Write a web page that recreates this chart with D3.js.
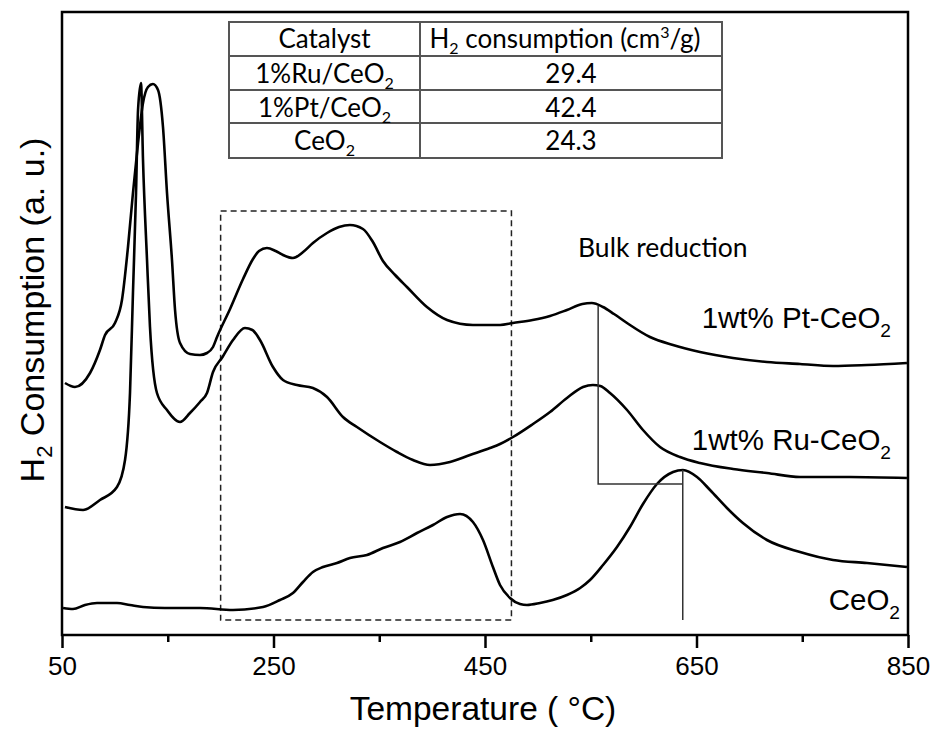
<!DOCTYPE html>
<html><head><meta charset="utf-8">
<script src="https://cdn.jsdelivr.net/npm/d3@7"></script>
<style>html,body{margin:0;padding:0;background:#fff;}svg{display:block;}</style>
</head><body>
<svg id="c" width="934" height="729"></svg>
<script>
// ---------- data (temperature in °C, signal in a.u.) ----------
const ptTemp = [52.8,62.3,76.5,85.9,90.7,100.1,106.7,112.4,117.1,121.9,126.6,131.3,136.0,140.8,145.5,149.3,154.0,156.9,161.6,171.0,180.5,187.1,192.8,196.6,208.9,221.2,230.6,236.3,243.8,252.0,259.0,268.4,278.0,287.3,300.6,312.0,322.3,334.6,344.0,353.5,365.0,376.2,395.1,414.1,438.6,464.2,476.5,495.0,511.5,527.5,542.0,551.0,561.6,572.0,584.3,606.0,627.8,653.3,684.5,716.6,747.9,779.1,811.2,849.0];
const ptSignal = [25.2,24.8,26.2,28.5,30.0,31.2,33.5,38.8,44.2,49.2,53.2,54.8,55.1,54.5,50.8,44.2,37.5,32.5,29.2,28.1,28.0,28.2,28.8,29.8,32.6,35.6,37.6,38.4,38.7,38.4,38.0,37.7,38.3,39.2,40.2,40.8,41.0,40.6,39.3,37.4,36.0,34.8,32.8,31.5,31.0,31.0,31.2,31.5,31.9,32.5,33.1,33.2,32.8,32.1,31.2,29.8,29.0,28.3,27.7,27.3,27.1,26.9,27.0,27.2];

const ruTemp = [52.8,69.9,85.9,102.0,109.6,114.3,117.1,120.0,121.9,124.7,126.6,130.4,133.2,139.8,149.3,161.6,171.0,180.5,187.1,192.8,201.8,211.7,223.0,230.0,237.2,249.5,259.0,272.2,287.3,300.6,315.7,328.9,350.7,366.8,381.9,398.0,416.9,435.8,454.7,464.2,476.5,495.4,511.5,527.5,542.7,552.0,559.0,568.2,584.3,599.4,615.5,634.4,653.3,684.5,716.6,747.9,795.1,849.0];
const ruSignal = [12.8,12.5,13.5,14.8,17.5,24.2,34.2,44.2,52.5,55.2,47.5,37.5,30.8,24.2,22.5,21.3,22.2,23.3,24.2,26.3,27.8,29.5,30.7,30.5,29.5,26.8,25.5,25.0,24.7,23.8,21.8,20.8,19.3,18.3,17.5,17.0,17.3,18.0,18.7,19.1,19.8,21.1,22.3,23.7,24.8,25.0,24.9,24.2,22.5,20.5,18.8,17.8,17.2,16.6,16.2,15.8,15.8,15.7];

const ceTemp = [51.0,60.4,71.7,83.1,102.0,114.3,126.6,147.4,180.5,211.7,240.1,256.1,268.4,277.9,287.3,296.8,310.0,322.3,338.4,353.5,369.6,385.7,400.8,414.1,426.4,438.6,448.1,457.5,464.2,473.6,483.1,489.7,502.0,514.0,527.5,540.0,549.3,561.6,574.8,587.1,599.4,612.6,627.8,637.2,650.5,662.8,678.8,693.9,716.6,747.9,779.1,811.2,849.0];
const ceSignal = [2.7,2.6,3.0,3.2,3.2,3.0,2.8,2.7,2.7,2.5,2.8,3.5,4.2,5.3,6.3,6.8,7.2,7.7,8.0,8.7,9.3,10.2,11.0,11.8,12.1,11.3,9.5,6.8,5.0,3.7,3.1,3.0,3.2,3.5,4.0,4.7,5.5,7.0,8.8,10.8,13.1,15.1,16.3,16.5,15.8,14.5,12.7,11.2,9.5,8.3,7.5,7.2,6.8];

const xTicksMajor = [50,250,450,650,850];
const xTicksMinor = [150,350,550,750];
const xDomain = [50,850];
const yDomain = [0,62.3];

const tableHeader = ["Catalyst","H2 consumption (cm3/g)"];
const tableCatalysts = ["1%Ru/CeO2","1%Pt/CeO2","CeO2"];
const tableValues = ["29.4","42.4","24.3"];

const curveLabels = ["1wt% Pt-CeO", "1wt% Ru-CeO", "CeO"];
const boxRange = {t0:200, t1:475, s0:1.5, s1:42.4};
const ptPeakT = 557, cePeakT = 637, bracketSignal = 15.1, ptPeakSig = 32.9, cePeakSig = 16.5, ceBottomSig = 1.5;

// ---------- layout ----------
const L = 62, R = 908, T = 12, B = 635;
const svg = d3.select("#c");
const x = d3.scaleLinear().domain(xDomain).range([L, R]);
const y = d3.scaleLinear().domain(yDomain).range([B, T]);
const AR = "'Liberation Sans', Arial, sans-serif";
const CAL = "Lato, 'Open Sans', sans-serif";

// frame
svg.append("rect").attr("x",L).attr("y",T).attr("width",R-L).attr("height",B-T)
  .attr("fill","none").attr("stroke","#000").attr("stroke-width",2.5);

// x axis ticks
const ax = svg.append("g").attr("transform",`translate(0,${B})`)
  .call(d3.axisBottom(x).tickValues(xTicksMajor).tickSize(13).tickSizeOuter(0).tickFormat(d3.format("d")));
ax.select(".domain").remove();
ax.selectAll(".tick line").attr("stroke","#000").attr("stroke-width",2.5);
ax.selectAll(".tick text").attr("font-family",AR).attr("font-size",26).attr("fill","#000").attr("dy","1.05em").attr("y",13);
const axm = svg.append("g").attr("transform",`translate(0,${B})`)
  .call(d3.axisBottom(x).tickValues(xTicksMinor).tickSize(7).tickFormat(""));
axm.select(".domain").remove();
axm.selectAll(".tick line").attr("stroke","#000").attr("stroke-width",2.5);

// axis titles
svg.append("text").attr("x",483).attr("y",720).attr("text-anchor","middle")
  .attr("font-family",AR).attr("font-size",33.5).attr("fill","#000").text("Temperature ( °C)");
const yl = svg.append("text").attr("transform","translate(44,310) rotate(-90)").attr("text-anchor","middle")
  .attr("font-family",AR).attr("font-size",34).attr("fill","#000");
yl.append("tspan").text("H");
yl.append("tspan").attr("font-size",22).attr("dy",8).text("2");
yl.append("tspan").attr("dy",-8).text(" Consumption (a. u.)");

// dashed box
svg.append("rect").attr("x",x(boxRange.t0)).attr("y",y(boxRange.s1))
  .attr("width",x(boxRange.t1)-x(boxRange.t0)).attr("height",y(boxRange.s0)-y(boxRange.s1))
  .attr("fill","none").attr("stroke","#222").attr("stroke-width",1.5).attr("stroke-dasharray","6,4");

// curves
const line = d3.line().x(d=>x(d[0])).y(d=>y(d[1])).curve(d3.curveMonotoneX);
[[ptTemp,ptSignal],[ruTemp,ruSignal],[ceTemp,ceSignal]].forEach(([t,s])=>{
  svg.append("path").datum(d3.zip(t,s)).attr("d",line)
    .attr("fill","none").attr("stroke","#000").attr("stroke-width",2.6).attr("stroke-linejoin","round");
});

// bracket lines
const bl = svg.append("g").attr("stroke","#333").attr("stroke-width",1.5).attr("fill","none");
bl.append("path").attr("d",`M${x(ptPeakT)},${y(ptPeakSig)}V${y(bracketSignal)}H${x(cePeakT)}`);
bl.append("path").attr("d",`M${x(cePeakT)},${y(cePeakSig)}V${y(ceBottomSig)}`);

// labels
svg.append("text").attr("x",578).attr("y",257).attr("font-family",CAL).attr("font-size",26.5).attr("fill","#000").text("Bulk reduction");
function subLabel(xr, yb, txt, fs){
  const t = svg.append("text").attr("x",xr).attr("y",yb).attr("text-anchor","end")
    .attr("font-family",AR).attr("font-size",fs).attr("fill","#000");
  t.append("tspan").text(txt);
  t.append("tspan").attr("font-size",fs*0.65).attr("dy",9).text("2");
}
subLabel(891,328,curveLabels[0],29.5);
subLabel(891,450,curveLabels[1],29.5);
subLabel(900,610,curveLabels[2],29.5);

// table
const tx = [229,420,722], ty = [22,56,90,123,158];
const tg = svg.append("g").attr("stroke","#555").attr("stroke-width",2).attr("fill","none");
tg.append("rect").attr("x",tx[0]).attr("y",ty[0]).attr("width",tx[2]-tx[0]).attr("height",ty[4]-ty[0]).attr("fill","#fff");
ty.slice(1,4).forEach(v=>tg.append("line").attr("x1",tx[0]).attr("x2",tx[2]).attr("y1",v).attr("y2",v));
tg.append("line").attr("x1",tx[1]).attr("x2",tx[1]).attr("y1",ty[0]).attr("y2",ty[4]);
const c1 = (tx[0]+tx[1])/2, c2 = (tx[1]+tx[2])/2 - 6;
function cell(cx, yb, parts){
  const t = svg.append("text").attr("x",cx).attr("y",yb).attr("text-anchor","middle")
    .attr("font-family",CAL).attr("font-size",26).attr("fill","#000");
  parts.forEach(p=>{
    const s = t.append("tspan").text(p.t);
    if(p.sub){ s.attr("font-size",16).attr("dy",6); }
    else if(p.sup){ s.attr("font-size",16).attr("dy",-10); }
    if(p.back) s.attr("dy",p.back);
  });
}
cell(c1,48,[{t:tableHeader[0]}]);
cell(c2,48,[{t:"H"},{t:"2",sub:true},{t:" consumption (cm",back:-6},{t:"3",sup:true},{t:"/g)",back:10}]);
const rowsB = [83,117,150];
tableCatalysts.forEach((c,i)=>{
  const base = c.slice(0,-1);
  cell(c1,rowsB[i],[{t:base},{t:"2",sub:true}]);
  cell(c2+6,rowsB[i],[{t:tableValues[i]}]);
});
</script>
</body></html>
